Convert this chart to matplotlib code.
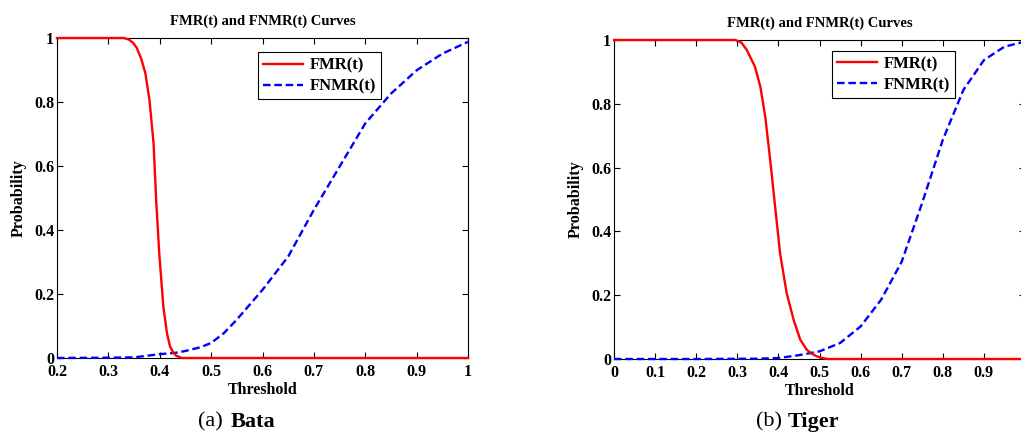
import numpy as np
import matplotlib.pyplot as plt

# FMR / FNMR curves
bata_fmr_t = [0.2, 0.30, 0.330, 0.340, 0.348, 0.355, 0.364, 0.372, 0.380, 0.388, 0.393, 0.399, 0.407, 0.414, 0.420, 0.426, 0.432, 0.443, 0.5, 1.0]
bata_fmr = [1.0, 1.0, 1.0, 0.995, 0.985, 0.970, 0.935, 0.890, 0.806, 0.670, 0.494, 0.327, 0.161, 0.078, 0.036, 0.018, 0.007, 0.0, 0.0, 0.0]
bata_fnmr_t = [0.2, 0.30, 0.35, 0.40, 0.43, 0.45, 0.48, 0.50, 0.525, 0.55, 0.60, 0.65, 0.70, 0.75, 0.80, 0.85, 0.90, 0.95, 1.0]
bata_fnmr = [0.0, 0.001, 0.002, 0.012, 0.016, 0.022, 0.034, 0.047, 0.078, 0.12, 0.213, 0.317, 0.463, 0.598, 0.733, 0.826, 0.899, 0.951, 0.988]

tiger_fmr_t = [0.0, 0.25, 0.295, 0.310, 0.323, 0.343, 0.356, 0.368, 0.380, 0.392, 0.404, 0.420, 0.437, 0.453, 0.469, 0.482, 0.494, 0.507, 0.520, 0.6, 1.0]
tiger_fmr = [1.0, 1.0, 1.0, 0.992, 0.969, 0.916, 0.854, 0.760, 0.624, 0.478, 0.332, 0.207, 0.123, 0.061, 0.029, 0.016, 0.008, 0.003, 0.0, 0.0, 0.0]
tiger_fnmr_t = [0.0, 0.2, 0.35, 0.40, 0.45, 0.50, 0.55, 0.60, 0.65, 0.70, 0.75, 0.80, 0.85, 0.90, 0.95, 1.0]
tiger_fnmr = [0.0, 0.0, 0.001, 0.003, 0.012, 0.024, 0.05, 0.102, 0.186, 0.305, 0.49, 0.687, 0.843, 0.937, 0.979, 0.995]

plt.rcParams['font.family'] = ['Liberation Serif', 'DejaVu Serif']
plt.rcParams['font.weight'] = 'bold'

fig = plt.figure(figsize=(10.21, 4.34), dpi=100)
W, H = 1021.0, 434.0


def make_axes(x0, x1, y0, y1):
    return fig.add_axes([x0 / W, 1 - y1 / H, (x1 - x0) / W, (y1 - y0) / H])


def draw(ax, fmr_t, fmr, fnmr_t, fnmr, xlim, xticks, xlabels, leg_anchor):
    ax.plot(fmr_t, fmr, color='#ff0000', lw=1.7, label='FMR(t)', clip_on=False, zorder=4)
    ax.plot(fnmr_t, fnmr, color='#0000ff', lw=1.7, ls=(0, (3.2, 1.6)), label='FNMR(t)',
            clip_on=False, zorder=3)
    ax.set_xlim(*xlim)
    ax.set_ylim(0, 1)
    ax.set_xticks(xticks)
    ax.set_xticklabels(xlabels)
    ax.set_yticks([0, 0.2, 0.4, 0.6, 0.8, 1])
    ax.set_yticklabels(['0', '0.2', '0.4', '0.6', '0.8', '1'])
    ax.tick_params(direction='in', top=True, right=True, labelsize=11.5, length=4, width=0.8)
    ax.tick_params(axis='x', pad=4)
    ax.tick_params(axis='y', pad=2)
    for lab in ax.get_xticklabels() + ax.get_yticklabels():
        lab.set_fontweight('bold')
    ax.set_title('FMR(t) and FNMR(t) Curves', fontsize=10.5, fontweight='bold', pad=9.5)
    ax.set_xlabel('Threshold', fontsize=11.5, fontweight='bold', labelpad=2)
    ax.set_ylabel('Probability', fontsize=11.5, fontweight='bold', labelpad=5)
    leg = ax.legend(loc='upper left', bbox_to_anchor=leg_anchor, fontsize=12,
                    frameon=True, fancybox=False, edgecolor='black', framealpha=1,
                    handlelength=2.4, borderpad=0.3, labelspacing=0.3, handletextpad=0.4,
                    borderaxespad=0)
    leg.get_frame().set_linewidth(0.8)
    leg.set_zorder(5)
    for t in leg.get_texts():
        t.set_fontweight('bold')


ax1 = make_axes(57, 468, 38, 358)
xt1 = [0.2, 0.3, 0.4, 0.5, 0.6, 0.7, 0.8, 0.9, 1.0]
draw(ax1, bata_fmr_t, bata_fmr, bata_fnmr_t, bata_fnmr, (0.2, 1.0),
     xt1, ['%g' % v for v in xt1], (0.49, 0.955))

ax2 = make_axes(614, 1025, 40, 359)
xt2 = [0, 0.1, 0.2, 0.3, 0.4, 0.5, 0.6, 0.7, 0.8, 0.9, 1.0]
draw(ax2, tiger_fmr_t, tiger_fmr, tiger_fnmr_t, tiger_fnmr, (0.0, 1.0),
     xt2, ['%g' % v for v in xt2[:-1]] + [''], (0.53, 0.965))

# captions
cy = 1 - 422 / H
fig.text(223 / W, cy, '(a)', fontsize=16, fontweight='normal', ha='right', va='center')
fig.text(231 / W, cy, 'Bata', fontsize=16, fontweight='bold', ha='left', va='center')
fig.text(782 / W, cy, '(b)', fontsize=16, fontweight='normal', ha='right', va='center')
fig.text(788 / W, cy, 'Tiger', fontsize=16, fontweight='bold', ha='left', va='center')

fig.savefig('out.png', dpi=100)
